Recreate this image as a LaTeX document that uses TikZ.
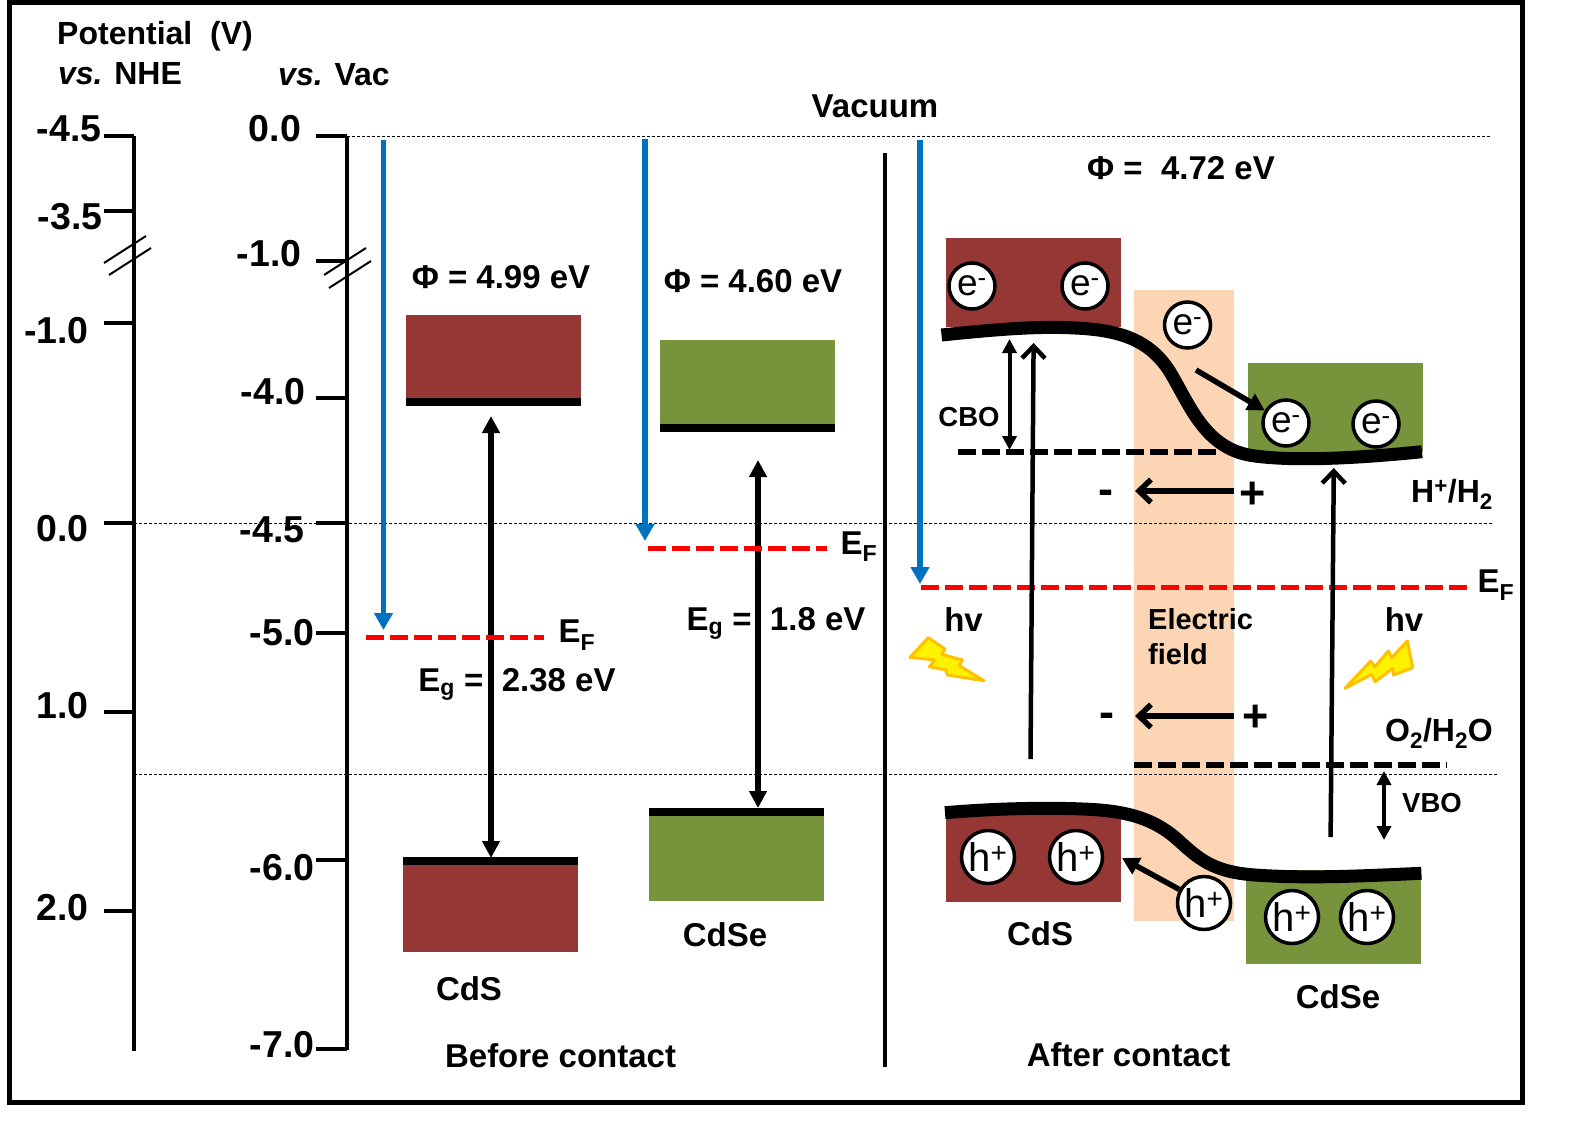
\documentclass[tikz,border=0pt]{standalone}
\usepackage{fontspec}
\setmainfont{Liberation Sans}
\usetikzlibrary{arrows.meta,positioning,calc}
\definecolor{cdsred}{HTML}{953735}
\definecolor{cdsegreen}{HTML}{77933C}
\definecolor{fieldpeach}{HTML}{FCD5B5}
\definecolor{vacblue}{HTML}{0070C0}
\definecolor{boltorange}{HTML}{FFC000}
\tikzset{
    lbl/.style={font=\bfseries\fontsize{33}{36}\selectfont,inner sep=0pt},
    midlbl/.style={font=\bfseries\fontsize{32}{36}\selectfont,inner sep=0pt},
    scalelbl/.style={font=\bfseries\fontsize{37.5}{40}\selectfont,inner sep=0pt},
    smalllbl/.style={font=\bfseries\fontsize{27.5}{32}\selectfont,inner sep=0pt},
    signlbl/.style={font=\bfseries\fontsize{45}{46}\selectfont,inner sep=0pt},
    carrier/.style={circle,draw=black,fill=white,line width=3.5pt,minimum size=46pt,inner sep=0pt,font=\fontsize{37}{37}\selectfont},
    hole/.style={carrier,minimum size=53pt,font=\fontsize{40}{40}\selectfont},
    axisline/.style={line width=4.8pt},
    tickline/.style={line width=3.2pt},
    breakline/.style={line width=2pt},
    levelline/.style={line width=0.7pt,densely dashed},
    bandedge/.style={line width=8pt},
    bendband/.style={line width=13pt},
    fermi/.style={red,line width=5pt,dash pattern=on 18pt off 6pt},
    redoxline/.style={black,line width=6pt,dash pattern=on 18pt off 6pt},
    vacarrow/.style={vacblue,line width=5.5pt,-{Triangle[length=17pt,width=18pt]}},
    gaparrow/.style={line width=5.5pt,{Triangle[length=17pt,width=17pt]}-{Triangle[length=17pt,width=17pt]}},
    offsetarrow/.style={line width=4pt,{Triangle[length=14pt,width=14pt]}-{Triangle[length=14pt,width=14pt]}},
    exciteline/.style={line width=4.5pt,-{Straight Barb[length=12pt,width=23pt,line width=4.5pt]}},
    fieldarrow/.style={line width=5.5pt,-{Straight Barb[length=12pt,width=23pt,line width=5.5pt]}},
    transfer/.style={line width=5.5pt,-{Triangle[length=17pt,width=18pt]}},
    bolt/.style={draw=boltorange,fill=yellow,line width=3pt,line join=round},
}
\newcommand{\sub}[1]{\textsubscript{#1}}
\newcommand{\sups}[1]{\textsuperscript{#1}}

\begin{document}
\begin{tikzpicture}[x=1pt,y=-1pt]
    \useasboundingbox (0,0) rectangle (1581,1135);
    \draw[line width=5pt] (9,2.5) rectangle (1522,1102);

    % depletion region goes under everything else
    \fill[fieldpeach] (1134,290) rectangle (1234,921);

    % the two potential scales
    \draw[levelline] (347,136) -- (1491,136);
    \draw[levelline] (134,523) -- (1493,523);
    \draw[levelline] (134,774) -- (1499,774);
    \draw[axisline] (134,136) -- (134,1051);
    \draw[axisline] (347,136) -- (347,1050);
    \foreach \tick in {136,211,323,523,712,911}{
        \draw[tickline] (104,\tick) -- (134,\tick);
    }
    \node[scalelbl] (nhea) at (69,129) {-4.5};
    \node[scalelbl] (nheb) at (70,217) {-3.5};
    \node[scalelbl] (nhec) at (56.5,331) {-1.0};
    \node[scalelbl] (nhed) at (62.5,529) {0.0};
    \node[scalelbl] (nhee) at (62.5,706) {1.0};
    \node[scalelbl] (nhef) at (62.5,907.5) {2.0};
    \foreach \tick in {136,261,398,523,633,860,1049}{
        \draw[tickline] (316,\tick) -- (347,\tick);
    }
    \node[scalelbl] (vaca) at (275,129) {0.0};
    \node[scalelbl] (vacb) at (269,254) {-1.0};
    \node[scalelbl] (vacc) at (273,392) {-4.0};
    \node[scalelbl] (vacd) at (272,530) {-4.5};
    \node[scalelbl] (vace) at (282,633) {-5.0};
    \node[scalelbl] (vacf) at (282,868) {-6.0};
    \node[scalelbl] (vacg) at (282,1045) {-7.0};
    \draw[breakline] (104,263) -- (146,236);
    \draw[breakline] (109,275) -- (151,248);
    \draw[breakline] (324,275) -- (366,248);
    \draw[breakline] (329,288) -- (371,261);

    \node[midlbl] (potential) at (155,36) {Potential\ \ (V)};
    \node[midlbl] (vsnhe) at (120,74) {\textit{vs.} NHE};
    \node[midlbl] (vsvac) at (334,75) {\textit{vs.} Vac};
    \node[lbl] (vacuum) at (875,106) {Vacuum};

    % before contact
    \fill[cdsred] (406,315) rectangle (581,403);
    \fill[cdsred] (403,860) rectangle (578,952);
    \fill[cdsegreen] (660,340) rectangle (835,428);
    \fill[cdsegreen] (649,812) rectangle (824,901);
    \draw[bandedge] (406,402) -- (581,402);
    \draw[bandedge] (403,861) -- (578,861);
    \draw[bandedge] (660,427.5) -- (835,427.5);
    \draw[bandedge] (649,812) -- (824,812);
    \draw[gaparrow] (491,416) -- (491,858);
    \draw[gaparrow] (758,460) -- (758,808);
    \draw[vacarrow] (383.5,140) -- (383.5,630);
    \draw[vacarrow] (645,139) -- (645,541);
    \draw[fermi] (366,637) -- (544,637);
    \draw[fermi] (648,548) -- (827,548);
    \node[lbl] (phicds) at (501,277) {Φ = 4.99 eV};
    \node[lbl] (phicdse) at (753,281) {Φ = 4.60 eV};
    \node[lbl] (efcds) at (577,635) {E\sub{F}};
    \node[lbl] (efcdse) at (859,546.5) {E\sub{F}};
    \node[lbl] (egcds) at (517,684) {E\sub{g} =\ \ 2.38 eV};
    \node[lbl] (egcdse) at (776,623) {E\sub{g} =\ \ 1.8 eV};
    \node[lbl] (namecds) at (469,989) {CdS};
    \node[lbl] (namecdse) at (725,935) {CdSe};
    \node[lbl] (before) at (560.6,1056) {Before contact};

    \draw[line width=3.5pt] (885,153) -- (885,1067);

    % after contact
    \fill[cdsred] (946,238) rectangle (1121,327);
    \fill[cdsegreen] (1248,363) rectangle (1423,452);
    \fill[cdsred] (946,813) rectangle (1121,902);
    \fill[cdsegreen] (1246,870) rectangle (1421,964);
    \draw[redoxline] (958,452) -- (1217,452);
    \draw[bendband] (941.5,335) .. controls (1000,329) and (1040,326) .. (1075,328) .. controls (1120,330) and (1150,340) .. (1170,372) .. controls (1190,405) and (1205,450) .. (1255,456) .. controls (1300,462) and (1370,457) .. (1422,451.7);
    \draw[bendband] (945,812.7) .. controls (1000,808) and (1060,807) .. (1100,810) .. controls (1135,813) and (1158,822) .. (1178,840) .. controls (1198,858) and (1212,872) .. (1255,875) .. controls (1310,879) and (1370,875.5) .. (1421.4,873.3);
    \draw[redoxline] (1134,765) -- (1447,765);
    \draw[fermi] (921,587) -- (1469,587);
    \draw[vacarrow] (920,140) -- (920,584);

    \coordinate (cboend) at (1009.5,450);
    \coordinate (cbotop) at (1009.5,339);
    \draw[offsetarrow] (cboend) -- (cbotop);
    \coordinate (vbotop) at (1384,771);
    \coordinate (vboend) at (1384,840);
    \draw[offsetarrow] (vbotop) -- (vboend);
    \node[smalllbl] (cbo) at (969,417) {CBO};
    \node[smalllbl] (vbo) at (1432,803) {VBO};

    \coordinate (excitecdsfoot) at (1030.5,759);
    \coordinate (excitecdshead) at (1033.6,343);
    \coordinate (excitecdsefoot) at (1330.6,837);
    \coordinate (excitecdsehead) at (1333.8,468);
    \draw[exciteline] (excitecdsfoot) -- (excitecdshead);
    \draw[exciteline] (excitecdsefoot) -- (excitecdsehead);

    \node[carrier] (ecdsa) at (972,286) {e\sups{-}};
    \node[carrier] (ecdsb) at (1085,286) {e\sups{-}};
    \node[carrier] (efield) at (1187.5,325) {e\sups{-}};
    \node[carrier] (ecdsea) at (1286,423) {e\sups{-}};
    \node[carrier] (ecdseb) at (1376,424) {e\sups{-}};
    \node[hole] (hcdsa) at (988,857) {\raisebox{-3pt}{h\sups{+}}};
    \node[hole] (hcdsb) at (1076,857) {\raisebox{-3pt}{h\sups{+}}};
    \node[hole] (hfield) at (1204,903) {\raisebox{-3pt}{h\sups{+}}};
    \node[hole] (hcdsea) at (1292,917) {\raisebox{-3pt}{h\sups{+}}};
    \node[hole] (hcdseb) at (1367,917) {\raisebox{-3pt}{h\sups{+}}};

    \coordinate (etail) at (1196,370);
    \draw[transfer] (etail) -- (ecdsea);
    \draw[transfer] (hfield) -- (1122,858);

    \node[signlbl] (minusa) at (1106,497) {-};
    \node[signlbl] (plusa) at (1253,495) {+};
    \node[signlbl] (minusb) at (1107,720) {-};
    \node[signlbl] (plusb) at (1255.6,718) {+};
    \draw[fieldarrow] (1234,491) -- (1135,491);
    \draw[fieldarrow] (1234,716) -- (1135,716);

    \draw[bolt] (928.3,637.7) -- (945,649) -- (941.7,654.3) -- (962.3,660) -- (959.3,665.7) -- (984,680.7) -- (947.3,675) -- (946,670) -- (929.3,666.7) -- (935,660) -- (910,657.3) -- cycle;
    \draw[bolt] (1407.3,641) -- (1412.7,667.7) -- (1393.3,675) -- (1392.7,668.3) -- (1375,681.7) -- (1371.7,674.3) -- (1345,688.3) -- (1370.7,661) -- (1375,666.7) -- (1388.3,651) -- (1391.7,657.7) -- cycle;

    \node[lbl] (phiafter) at (1181,168) {Φ =\ \ 4.72 eV};
    \node[lbl] (hvcds) at (963.5,620) {hv};
    \node[lbl] (hvcdse) at (1404,620) {hv};
    \node[lbl,font=\bfseries\fontsize{29}{35}\selectfont,align=left,anchor=north west] (elfield) at (1148,608) {Electric\\field};
    \node[midlbl] (hredox) at (1452,494) {H\sups{+}/H\sub{2}};
    \node[midlbl] (oredox) at (1439,733) {O\sub{2}/H\sub{2}O};
    \node[lbl] (efafter) at (1496,585) {E\sub{F}};
    \node[lbl] (namecdsb) at (1040,934) {CdS};
    \node[lbl] (namecdseb) at (1338,997) {CdSe};
    \node[lbl] (after) at (1128.6,1055) {After contact};
\end{tikzpicture}
\end{document}
